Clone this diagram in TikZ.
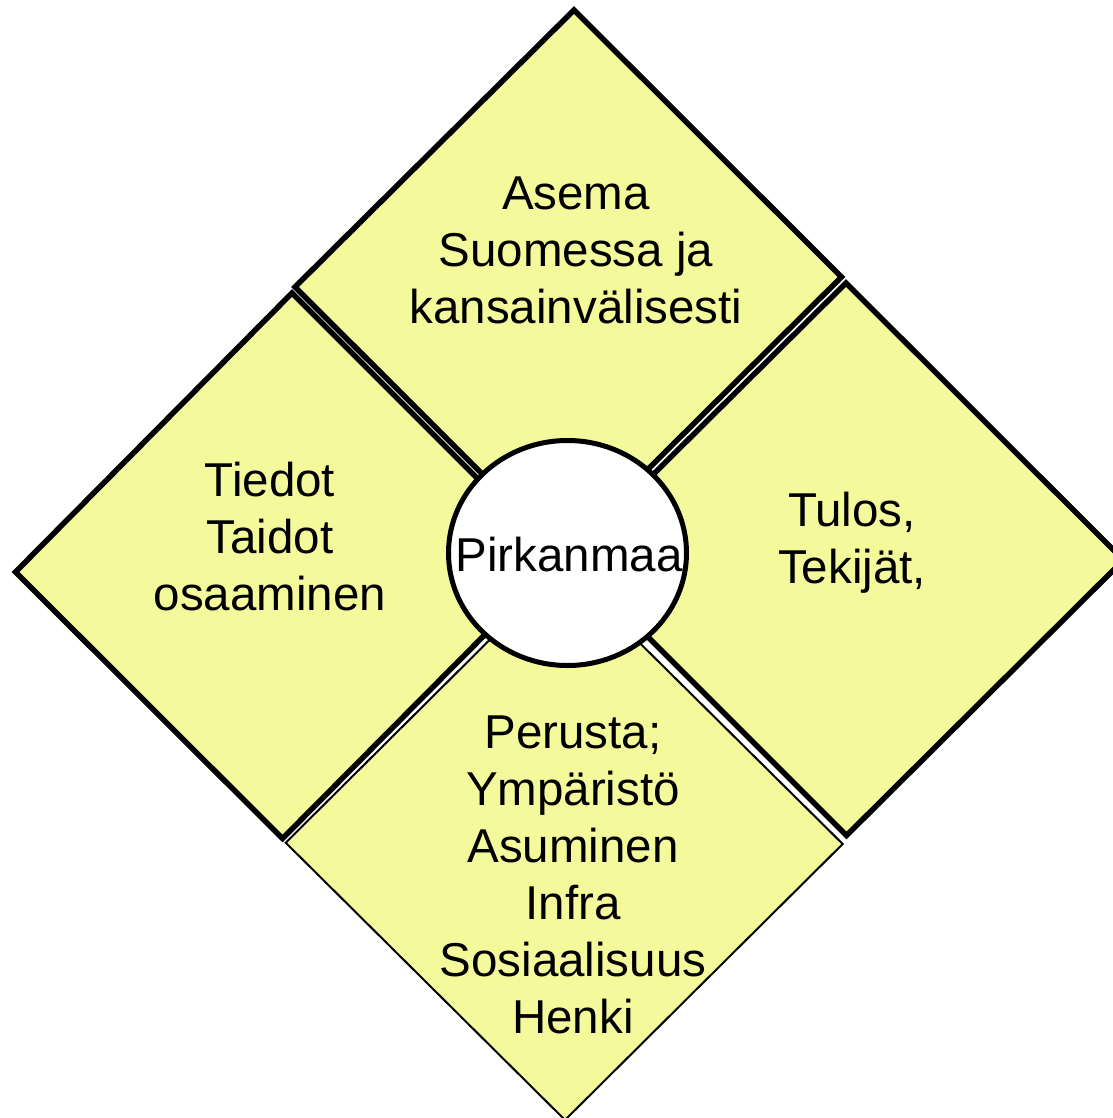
\documentclass[tikz,border=0pt]{standalone}
\usepackage{fontspec}
\setmainfont{Liberation Sans}
\usetikzlibrary{shapes.geometric}
\definecolor{pad}{RGB}{244,250,155}
\tikzset{
  thickdia/.style={draw=black, fill=pad, line width=5.5pt, line join=miter},
  thindia/.style={draw=black, fill=pad, line width=2pt, line join=miter},
  lbl/.style={align=center, inner sep=0pt, font=\fontsize{47.5}{57}\selectfont},
}
\begin{document}
\begin{tikzpicture}[x=1pt,y=-1pt]
\useasboundingbox (0,0) rectangle (1112,1118);
% top diamond
\draw[thickdia] (574,10) -- (841.5,277) -- (562.5,554) -- (295,287) -- cycle;
% left diamond
\draw[thickdia] (292,293) -- (559,560) -- (282.5,838.5) -- (15.5,572) -- cycle;
% right diamond
\draw[thickdia] (846,283) -- (1123.5,560) -- (846.5,835.5) -- (569,558) -- cycle;
% bottom diamond
\draw[thindia] (563,567) -- (842.7,844) -- (565,1120) -- (285.7,842.7) -- cycle;
% centre
\node[draw=black, fill=white, line width=5pt, ellipse, minimum width=238pt, minimum height=225pt, inner sep=0pt] (centre) at (567.5,553) {};
\node[lbl] (pirk) at (569,555) {Pirkanmaa};
\node[lbl] (top) at (576,250) {Asema\\Suomessa ja\\kansainvälisesti};
\node[lbl] (left) at (270,537) {Tiedot\\Taidot\\osaaminen};
\node[lbl] (right) at (852,543) {Tulos,\\Tekijät,};
\node[lbl] (bottom) at (573,875) {Perusta;\\Ympäristö\\Asuminen\\Infra\\Sosiaalisuus\\Henki};
\end{tikzpicture}
\end{document}
